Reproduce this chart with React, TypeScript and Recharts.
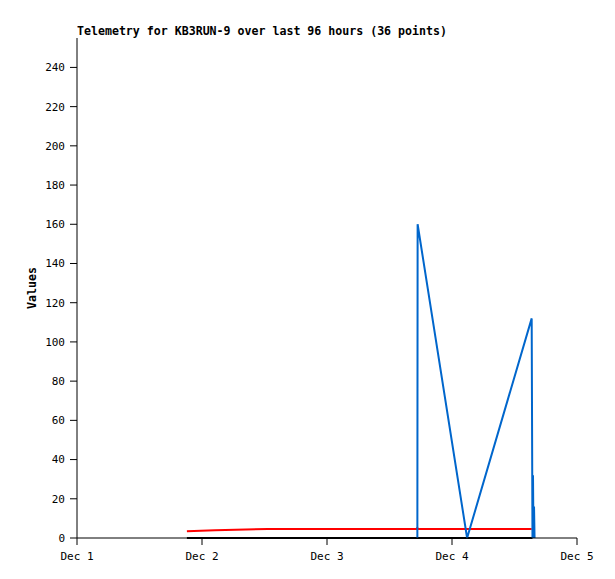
import { LineChart, Line, XAxis, YAxis } from 'recharts';

// hours since Dec 1 00:00
const hours = [21.1, 26.5, 36.6, 50, 65.2, 65.35, 65.4, 74.9, 87.3, 87.45, 87.55, 87.65, 87.75, 87.85];
const redValues = [3.5, 4, 4.6, 4.6, 4.6, 5.1, 4.6, 4.6, 4.6, null, null, null, null, null];
const blueValues = [null, null, null, null, null, 0, 160, 0, 112, 0, 32, 0, 16, 0];
const blackValues = [0, 0, 0, 0, 0, 0, 0, 0, 0, 0, null, null, null, null];

const xTicks = [0, 24, 48, 72, 96];
const xTickLabels = ['Dec 1', 'Dec 2', 'Dec 3', 'Dec 4', 'Dec 5'];
const yTicks = [0, 20, 40, 60, 80, 100, 120, 140, 160, 180, 200, 220, 240];

const data = hours.map((t, i) => ({
  t,
  red: redValues[i],
  blue: blueValues[i],
  black: blackValues[i],
}));

const font = '"DejaVu Sans Mono", monospace';

export default function App() {
  return (
    <div style={{ position: 'relative', width: 615, height: 579, background: '#fff' }}>
      <style>{`body{margin:0}`}</style>
      <div
        style={{
          position: 'absolute',
          left: 77,
          top: 24,
          fontFamily: font,
          fontWeight: 'bold',
          fontSize: 11.6,
          color: '#000',
          whiteSpace: 'nowrap',
        }}
      >
        Telemetry for KB3RUN-9 over last 96 hours (36 points)
      </div>
      <LineChart
        width={615}
        height={579}
        data={data}
        margin={{ top: 38, right: 38, bottom: 0, left: 0 }}
      >
        <XAxis
          xAxisId="top"
          orientation="top"
          dataKey="t"
          type="number"
          domain={[0, 96]}
          height={0}
          tick={false}
          tickLine={false}
          axisLine={{ stroke: '#555' }}
        />
        <XAxis
          dataKey="t"
          type="number"
          domain={[0, 96]}
          ticks={xTicks}
          height={41}
          tickFormatter={(v: number) => xTickLabels[xTicks.indexOf(v)]}
          tick={{ fill: '#000', fontSize: 11, fontFamily: font }}
          tickLine={{ stroke: '#000' }}
          tickSize={7}
          tickMargin={7}
          axisLine={{ stroke: '#000' }}
        />
        <YAxis
          yAxisId="right"
          orientation="right"
          domain={[0, 255]}
          width={0}
          tick={false}
          tickLine={false}
          axisLine={{ stroke: '#555' }}
        />
        <YAxis
          domain={[0, 255]}
          ticks={yTicks}
          width={77}
          tick={{ fill: '#000', fontSize: 11, fontFamily: font }}
          tickLine={{ stroke: '#000' }}
          tickSize={7}
          tickMargin={5}
          axisLine={{ stroke: '#000' }}
          label={{
            value: 'Values',
            angle: -90,
            position: 'insideLeft',
            offset: 32,
            style: { fontFamily: font, fontWeight: 'bold', fontSize: 11.6, fill: '#000', textAnchor: 'middle' },
          }}
        />
        <Line
          dataKey="red"
          stroke="#ff0000"
          strokeWidth={2}
          dot={false}
          isAnimationActive={false}
          connectNulls={false}
        />
        <Line
          dataKey="black"
          stroke="#000000"
          strokeWidth={2}
          dot={false}
          isAnimationActive={false}
        />
        <Line
          dataKey="blue"
          stroke="#0066cc"
          strokeWidth={2}
          dot={false}
          isAnimationActive={false}
        />
      </LineChart>
    </div>
  );
}
